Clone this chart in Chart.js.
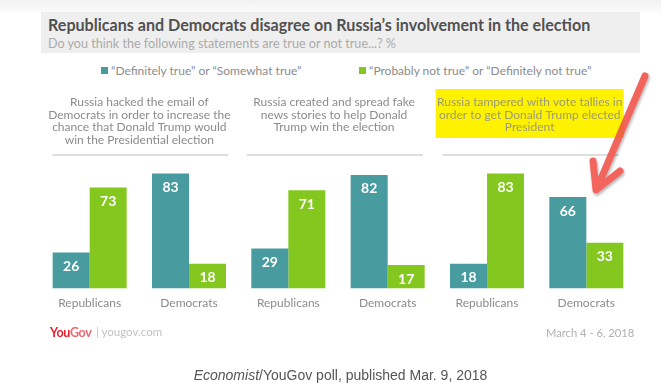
<!DOCTYPE html>
<html>
<head>
<meta charset="utf-8">
<script src="https://cdn.jsdelivr.net/npm/chart.js@4.4.0/dist/chart.umd.min.js"></script>
<style>
  body { margin: 0; width: 661px; height: 388px; background: #fff; position: relative; overflow: hidden; font-family: Lato, sans-serif; }
  .abs { position: absolute; white-space: nowrap; }
  #topstrip { left: 0; top: 0; width: 661px; height: 12px; background: linear-gradient(#f2f2f2, #fbfbfb); }
  #band { left: 41px; top: 12px; width: 599px; height: 41px; background: #efefef; }
  #title { left: 48px; top: 15px; font-size: 16.1px; font-weight: bold; color: #515151; }
  #subtitle { left: 48px; top: 36px; font-size: 12.6px; color: #ababab; }
  .legend { top: 63px; font-size: 12px; color: #8c8c8c; line-height: 15px; }
  .legend i { display: inline-block; width: 7px; height: 7px; margin-right: 3px; vertical-align: 1px; }
  #chart { position: absolute; left: 0; top: 0; }
  #arrow { position: absolute; left: 0; top: 0; }
  #logo { left: 50px; top: 325px; font-size: 12.5px; font-weight: bold; letter-spacing: -0.3px; }
  #logo .you { color: #e3202c; }
  #logo .gov { color: #ea6a70; }
  #site { left: 96px; top: 325px; font-size: 11.5px; color: #c2c2c2; }
  #date { left: 546px; top: 326px; font-size: 11.2px; color: #b0b0b0; }
  #caption { left: 10px; width: 661px; top: 367px; text-align: center; font-family: "Liberation Sans", sans-serif; font-size: 14px; color: #555; }
</style>
</head>
<body>
<div class="abs" id="topstrip"></div>
<div class="abs" id="band"></div>
<div class="abs" id="title">Republicans and Democrats disagree on Russia’s involvement in the election</div>
<div class="abs" id="subtitle">Do you think the following statements are true or not true...? %</div>
<div class="abs legend" id="leg0" style="left:101px"></div>
<div class="abs legend" id="leg1" style="left:359px"></div>
<canvas id="chart" width="661" height="388"></canvas>
<svg id="arrow" width="661" height="388">
  <defs>
    <filter id="sh" x="-20%" y="-20%" width="140%" height="140%">
      <feDropShadow dx="1" dy="2" stdDeviation="1.5" flood-color="#000" flood-opacity="0.35"/>
    </filter>
  </defs>
  <g stroke="#f0554b" stroke-linecap="round" stroke-linejoin="round" fill="none" opacity="0.9" filter="url(#sh)">
    <path d="M645 76 L598 186" stroke-width="7"/>
    <path d="M593 161 L596 190 L620 171" stroke-width="7"/>
  </g>
</svg>
<div class="abs" id="logo"><span class="you">You</span><span class="gov">Gov</span></div>
<div class="abs" id="site">| yougov.com</div>
<div class="abs" id="date">March 4 - 6, 2018</div>
<div class="abs" id="caption"><i>Economist</i>/YouGov poll, published Mar. 9, 2018</div>

<script>
// data
const categories = ['Republicans', 'Democrats', 'Republicans', 'Democrats', 'Republicans', 'Democrats'];
const trueValues = [26, 83, 29, 82, 18, 66];
const notTrueValues = [73, 18, 71, 17, 83, 33];
const seriesNames = ['“Definitely true” or “Somewhat true”', '“Probably not true” or “Definitely not true”'];
const seriesColors = ['#489c9f', '#84c81f'];
const panelTitles = [
    ['Russia hacked the email of', 'Democrats in order to increase the', 'chance that Donald Trump would', 'win the Presidential election'],
    ['Russia created and spread fake', 'news stories to help Donald', 'Trump win the election'],
    ['Russia tampered with vote tallies in', 'order to get Donald Trump elected', 'President']
];
const highlightPanel = 2;

// html legend
seriesNames.forEach((name, i) => {
    const el = document.getElementById('leg' + i);
    el.innerHTML = '<i style="background:' + seriesColors[i] + '"></i>' + name;
});

// white value labels inside the bars
const barLabels = {
    id: 'barLabels',
    afterDatasetsDraw(chart) {
        const ctx = chart.ctx;
        ctx.save();
        ctx.fillStyle = '#fff';
        ctx.font = 'bold 14px Lato';
        ctx.textAlign = 'center';
        ctx.textBaseline = 'middle';
        chart.data.datasets.forEach((ds, di) => {
            chart.getDatasetMeta(di).data.forEach((bar, i) => {
                ctx.fillText(ds.data[i], bar.x, bar.y + 14);
            });
        });
        ctx.restore();
    }
};

// panel headings above each pair of groups
const panelHeads = {
    id: 'panelHeads',
    afterDraw(chart) {
        const ctx = chart.ctx;
        const x = chart.scales.x;
        const shift = [0, -4, -7];
        ctx.save();
        panelTitles.forEach((lines, p) => {
            const cx = (x.getPixelForValue(p * 2) + x.getPixelForValue(p * 2 + 1)) / 2 + shift[p];
            if (p === highlightPanel) {
                ctx.fillStyle = '#fff200';
                ctx.fillRect(cx - 94, 89, 188, 49);
            }
            ctx.fillStyle = p === highlightPanel ? '#9a9a7a' : '#8c8c8c';
            ctx.font = '12px Lato';
            ctx.textAlign = 'center';
            ctx.textBaseline = 'middle';
            lines.forEach((line, k) => {
                ctx.fillText(line, cx, 102 + k * 12.7);
            });
            ctx.strokeStyle = '#dedede';
            ctx.lineWidth = 2;
            ctx.beginPath();
            ctx.moveTo(cx - 87, 155);
            ctx.lineTo(cx + 89, 155);
            ctx.stroke();
        });
        ctx.restore();
    }
};

new Chart(document.getElementById('chart').getContext('2d'), {
    type: 'bar',
    data: {
        labels: categories,
        datasets: [{
            label: seriesNames[0],
            data: trueValues,
            backgroundColor: seriesColors[0]
        }, {
            label: seriesNames[1],
            data: notTrueValues,
            backgroundColor: seriesColors[1]
        }]
    },
    options: {
        responsive: false,
        animation: false,
        categoryPercentage: 0.745,
        barPercentage: 1.0,
        layout: {
            padding: { top: 150, left: 40, right: 25, bottom: 71 }
        },
        plugins: {
            legend: { display: false },
            tooltip: { enabled: false }
        },
        scales: {
            x: {
                grid: { display: false, drawTicks: false },
                border: { display: false },
                ticks: {
                    color: '#8c8c8c',
                    font: { family: 'Lato', size: 12 },
                    padding: 7,
                    maxRotation: 0
                }
            },
            y: {
                display: false,
                min: 0,
                max: 100
            }
        }
    },
    plugins: [barLabels, panelHeads]
});
</script>
</body>
</html>
